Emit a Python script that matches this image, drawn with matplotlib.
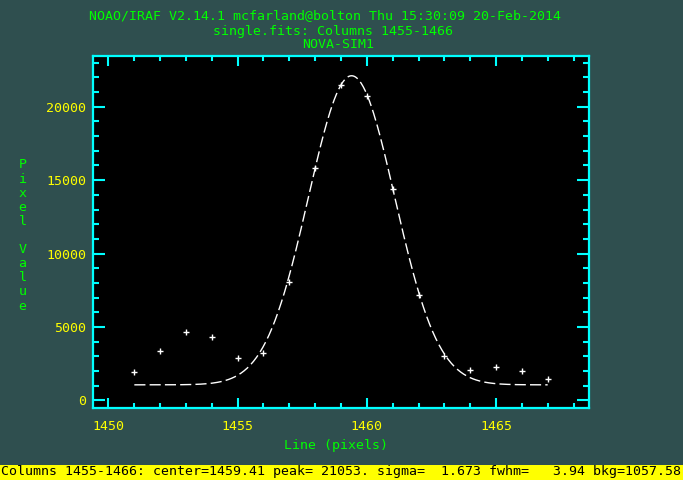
import numpy as np
import matplotlib
matplotlib.use("Agg")
import matplotlib.pyplot as plt
from matplotlib.ticker import MultipleLocator
from matplotlib.patches import Rectangle

# ---- data ----
line_pix = [1451, 1452, 1453, 1454, 1455, 1456, 1457, 1458, 1459,
            1460, 1461, 1462, 1463, 1464, 1465, 1466, 1467]
pixel_val = [1907, 3365, 4659, 4339, 2888, 3249, 8072, 15831, 21458,
             20709, 14401, 7200, 2997, 2091, 2275, 2023, 1478]

# Gaussian fit parameters (from the status line)
fit_center = 1459.41
fit_peak = 21053.
fit_sigma = 1.673
fit_bkg = 1057.58

title_lines = ["NOAO/IRAF V2.14.1 mcfarland@bolton Thu 15:30:09 20-Feb-2014",
               "single.fits: Columns 1455-1466",
               "NOVA-SIM1"]
x_label = "Line (pixels)"
y_label = "Pixel Value"
status = ("Columns 1455-1466: center=1459.41 peak= 21053. sigma=  1.673 "
          "fwhm=   3.94 bkg=1057.58")
xticks = [1450, 1455, 1460, 1465]
yticks = [0, 5000, 10000, 15000, 20000]

BG = "#2F4F4F"
CYAN = "#00FFFF"
GREEN = "#00FF00"
YELLOW = "#FFFF00"
FONT = "DejaVu Sans Mono"
FS = 9.5

W, H = 683, 480
fig = plt.figure(figsize=(W / 100, H / 100), dpi=100, facecolor=BG)
L, R, T, B = 93, 589, 56, 408
ax = fig.add_axes([L / W, 1 - B / H, (R - L) / W, (B - T) / H])
ax.set_facecolor("black")

# fitted curve
xf = np.linspace(min(line_pix), max(line_pix), 400)
yf = fit_bkg + fit_peak * np.exp(-0.5 * ((xf - fit_center) / fit_sigma) ** 2)
ax.plot(xf, yf, color="white", lw=1.0, dashes=(8, 3))

# data points
ax.plot(line_pix, pixel_val, ls="none", marker="+", ms=5, mew=1.0,
        color="white")

# autoscale with 10% margins like IRAF
xmin, xmax = min(line_pix), max(line_pix)
ymin, ymax = min(pixel_val), max(pixel_val)
dx, dy = xmax - xmin, ymax - ymin
ax.set_xlim(xmin - 0.1 * dx, xmax + 0.1 * dx)
ax.set_ylim(ymin - 0.1 * dy, ymax + 0.1 * dy)

ax.set_xticks(xticks)
ax.set_yticks(yticks)
ax.xaxis.set_minor_locator(MultipleLocator(1))
ax.yaxis.set_minor_locator(MultipleLocator(1000))
ax.tick_params(which="both", direction="in", color=CYAN, top=True,
               right=True, width=1.5)
ax.tick_params(axis="x", which="major", length=7.2, pad=8.5)
ax.tick_params(axis="x", which="minor", length=3.6)
ax.tick_params(axis="y", which="major", length=8.6, pad=5)
ax.tick_params(axis="y", which="minor", length=4.3)
for lab in ax.get_xticklabels() + ax.get_yticklabels():
    lab.set_fontfamily(FONT)
    lab.set_fontsize(FS)
    lab.set_color(YELLOW)
for sp in ax.spines.values():
    sp.set_color(CYAN)
    sp.set_linewidth(1.6)

# titles
title_pos = [(325, 16), (333, 31), (338, 45)]
for txt, (px, py) in zip(title_lines, title_pos):
    fig.text(px / W, 1 - py / H, txt, ha="center", va="center",
             color=GREEN, fontfamily=FONT, fontsize=FS)

# x label
fig.text(336 / W, 1 - 445 / H, x_label, ha="center", va="center",
         color=GREEN, fontfamily=FONT, fontsize=FS)

# vertical stacked y label
y0, step = 165, 14.1
for i, ch in enumerate(y_label):
    if ch.strip():
        fig.text(22.5 / W, 1 - (y0 + i * step) / H, ch, ha="center",
                 va="center", color=GREEN, fontfamily=FONT, fontsize=FS)

# status bar
fig.patches.append(Rectangle((0, 0), 1, 15.5 / H, transform=fig.transFigure,
                             facecolor=YELLOW, edgecolor="none"))
fig.text(1 / W, 1 - 471.5 / H, status, ha="left", va="center",
         color="black", fontfamily=FONT, fontsize=FS)

fig.savefig("out.png", dpi=100, facecolor=BG)
